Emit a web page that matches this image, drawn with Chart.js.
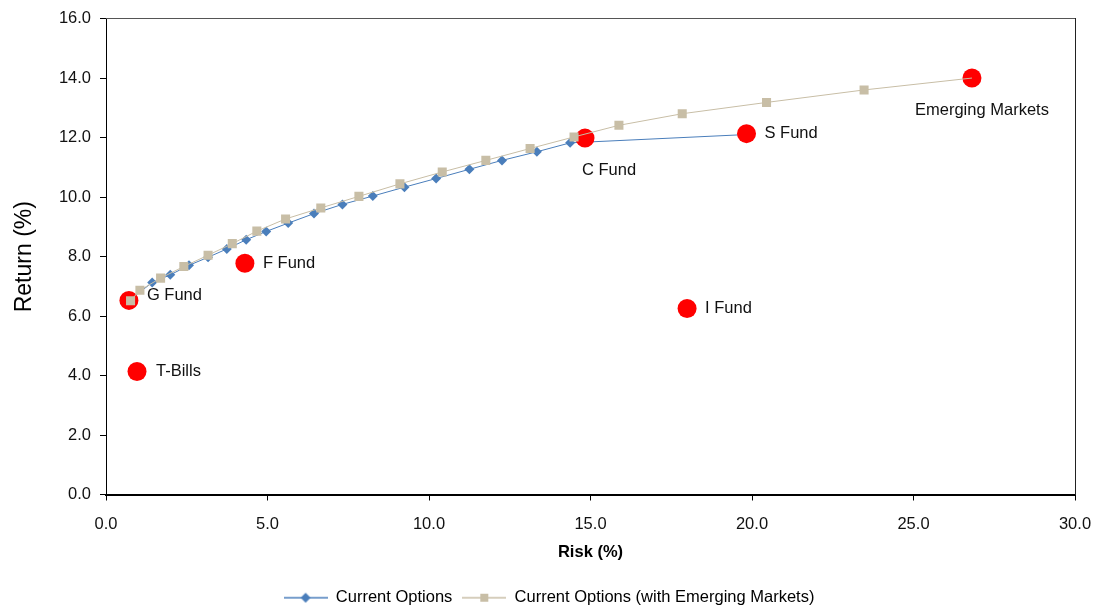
<!DOCTYPE html>
<html>
<head>
<meta charset="utf-8">
<script src="https://cdn.jsdelivr.net/npm/chart.js@4.4.1/dist/chart.umd.min.js"></script>
<style>
  body { margin: 0; background: #fff; }
  #wrap { width: 1096px; height: 608px; position: relative; }
</style>
</head>
<body>
<div id="wrap"><canvas id="myChart"></canvas></div>
<script>
// efficient frontier: current options
const currentRisk = [0.71, 1.43, 1.99, 2.57, 3.16, 3.74, 4.34, 4.96, 5.64, 6.44, 7.32, 8.26, 9.24, 10.22, 11.25, 12.26, 13.34, 14.37, 19.84];
const currentReturn = [6.53, 7.13, 7.39, 7.71, 7.98, 8.26, 8.57, 8.85, 9.13, 9.45, 9.76, 10.04, 10.34, 10.63, 10.94, 11.24, 11.53, 11.83, 12.11];

// efficient frontier: with emerging markets
const emRisk = [0.76, 1.05, 1.69, 2.41, 3.16, 3.91, 4.67, 5.56, 6.65, 7.83, 9.10, 10.41, 11.76, 13.13, 14.49, 15.88, 17.84, 20.45, 23.47, 26.81];
const emReturn = [6.52, 6.87, 7.28, 7.67, 8.05, 8.44, 8.86, 9.27, 9.64, 10.03, 10.45, 10.85, 11.24, 11.64, 12.03, 12.42, 12.81, 13.19, 13.61, 14.01];

// single funds
const fundNames = ['G Fund', 'F Fund', 'C Fund', 'S Fund', 'I Fund', 'T-Bills', 'Emerging Markets'];
const fundRisk = [0.71, 4.30, 14.83, 19.83, 17.99, 0.96, 26.81];
const fundReturn = [6.53, 7.78, 11.99, 12.14, 6.26, 4.14, 14.01];

const seriesNames = ['Current Options', 'Current Options (with Emerging Markets)'];

// where each fund label sits relative to its dot (dx, dy, align)
const labelPlace = [[18, -5, 'left'], [18, 0, 'left'], [24, 32, 'center'], [18, 0, 'left'], [18, 0, 'left'], [19, 0, 'left'], [10, 32, 'center']];

const BLUE = '#4A7EBB';
const TAN = '#C8BEA6';
const FONT = "'Liberation Sans', Arial, sans-serif";

Chart.defaults.font.family = FONT;
Chart.defaults.color = '#000';

function toPoints(xs, ys) {
    return xs.map((x, i) => ({ x: x, y: ys[i] }));
}

// small images for the legend: line with the marker on it
function legendIcon(color, shape) {
    const c = document.createElement('canvas');
    c.width = 44; c.height = 12;
    const g = c.getContext('2d');
    g.strokeStyle = color; g.lineWidth = 1.5;
    g.beginPath(); g.moveTo(0, 6); g.lineTo(44, 6); g.stroke();
    g.fillStyle = color;
    g.beginPath();
    if (shape === 'diamond') {
        g.moveTo(22, 1); g.lineTo(27, 6); g.lineTo(22, 11); g.lineTo(17, 6);
    } else {
        g.rect(18, 2, 8, 8);
    }
    g.fill();
    return c;
}
const icons = [legendIcon(BLUE, 'diamond'), legendIcon(TAN, 'square')];

const fundLabels = {
    id: 'fundLabels',
    afterDatasetsDraw(chart) {
        const ctx = chart.ctx;
        const xs = chart.scales.x, ys = chart.scales.y;
        ctx.save();
        ctx.font = '16.5px ' + FONT;
        ctx.fillStyle = '#111';
        ctx.textBaseline = 'middle';
        fundNames.forEach((name, i) => {
            const p = labelPlace[i];
            ctx.textAlign = p[2];
            ctx.fillText(name, xs.getPixelForValue(fundRisk[i]) + p[0], ys.getPixelForValue(fundReturn[i]) + p[1]);
        });
        ctx.restore();
    }
};

const emRadius = emRisk.map((v, i) => i === emRisk.length - 1 ? 0 : 6.4);

const ctx = document.getElementById('myChart').getContext('2d');
const myChart = new Chart(ctx, {
    type: 'scatter',
    data: {
        datasets: [{
            label: seriesNames[0],
            data: toPoints(currentRisk, currentReturn),
            showLine: true,
            borderColor: BLUE,
            backgroundColor: BLUE,
            borderWidth: 1,
            pointStyle: 'rectRot',
            pointRadius: 5,
            pointBorderWidth: 0,
            order: 2
        }, {
            label: seriesNames[1],
            data: toPoints(emRisk, emReturn),
            showLine: true,
            borderColor: TAN,
            backgroundColor: TAN,
            borderWidth: 1,
            pointStyle: 'rect',
            pointRadius: emRadius,
            pointBorderWidth: 0,
            order: 0
        }, {
            label: 'Funds',
            data: toPoints(fundRisk, fundReturn),
            showLine: false,
            backgroundColor: '#FF0000',
            borderColor: '#FF0000',
            pointRadius: 9.5,
            pointBorderWidth: 0,
            order: 1
        }]
    },
    options: {
        responsive: true,
        maintainAspectRatio: false,
        animation: false,
        layout: { padding: { top: 18, left: 11, right: 9, bottom: -8 } },
        plugins: {
            tooltip: { enabled: false },
            legend: {
                position: 'bottom',
                labels: {
                    font: { size: 16.5 },
                    color: '#111',
                    usePointStyle: true,
                    pointStyleWidth: 44,
                    padding: 10,
                    generateLabels: () => seriesNames.map((name, i) => ({
                        text: name,
                        pointStyle: icons[i],
                        fillStyle: 'transparent',
                        strokeStyle: 'transparent',
                        lineWidth: 0,
                        datasetIndex: i
                    }))
                }
            }
        },
        scales: {
            x: {
                type: 'linear',
                min: 0, max: 30,
                afterFit: s => { s.height = 85; },
                ticks: { stepSize: 5, padding: 4, font: { size: 16.5, lineHeight: 2.4 }, color: '#111', callback: v => v.toFixed(1) },
                grid: { display: true, drawOnChartArea: false, tickLength: 6, tickColor: '#000' },
                border: { color: '#000', width: 2 },
                title: { display: true, text: 'Risk (%)', font: { size: 16.5, weight: 'bold' }, color: '#000', padding: { top: 0, bottom: 17 } }
            },
            y: {
                type: 'linear',
                min: 0, max: 16,
                afterFit: s => { s.width = 95; },
                ticks: { stepSize: 2, padding: 9, font: { size: 16.5 }, color: '#111', callback: v => v.toFixed(1) },
                grid: { display: true, drawOnChartArea: false, tickLength: 6, tickColor: '#000' },
                border: { color: '#000', width: 1 },
                title: { display: true, text: 'Return (%)', font: { size: 23 }, color: '#000', padding: { top: 0, bottom: 0 } }
            },
            xTop: {
                type: 'linear',
                position: 'top',
                min: 0, max: 30,
                afterFit: s => { s.height = 0; },
                ticks: { display: false },
                grid: { display: false },
                border: { color: '#555', width: 1 }
            },
            yRight: {
                type: 'linear',
                position: 'right',
                min: 0, max: 16,
                afterFit: s => { s.width = 12; },
                ticks: { display: false },
                grid: { display: false },
                border: { color: '#222', width: 1 }
            }
        }
    },
    plugins: [fundLabels]
});
</script>
</body>
</html>
